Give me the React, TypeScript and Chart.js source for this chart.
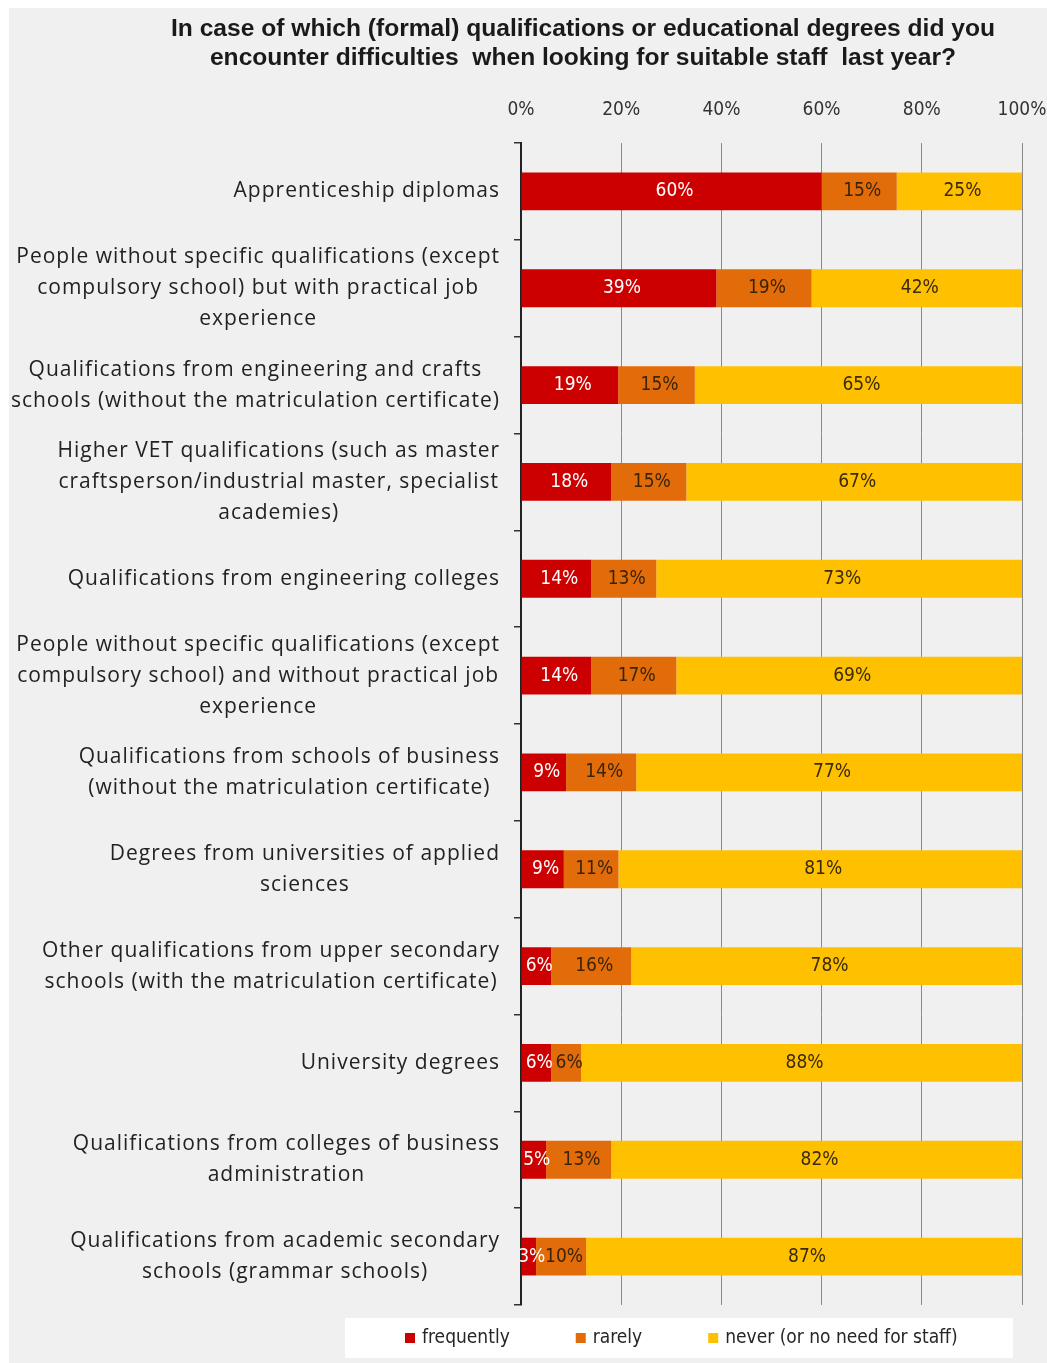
import React, { useEffect, useRef } from "react";
import { Chart, registerables } from "chart.js";

Chart.register(...registerables);

const titleLines: string[] = [
  "In case of which (formal) qualifications or educational degrees did you",
  "encounter difficulties  when looking for suitable staff  last year?",
];

const categories: string[][] = [
  ["Apprenticeship diplomas"],
  ["People without specific qualifications (except", "compulsory school) but with practical job", "experience"],
  ["Qualifications from engineering and crafts", "schools (without the matriculation certificate)"],
  ["Higher VET qualifications (such as master", "craftsperson/industrial master, specialist", "academies)"],
  ["Qualifications from engineering colleges"],
  ["People without specific qualifications (except", "compulsory school) and without practical job", "experience"],
  ["Qualifications from schools of business", "(without the matriculation certificate)"],
  ["Degrees from universities of applied", "sciences"],
  ["Other qualifications from upper secondary", "schools (with the matriculation certificate)"],
  ["University degrees"],
  ["Qualifications from colleges of business", "administration"],
  ["Qualifications from academic secondary", "schools (grammar schools)"],
];

const frequently: number[] = [60, 39, 19.4, 18, 14, 14, 9, 8.55, 6, 6, 5, 3];
const rarely: number[] = [15, 19, 15.3, 15, 13, 17, 14, 10.9, 16, 6, 13, 10];
const never: number[] = [25, 42, 65.3, 67, 73, 69, 77, 80.55, 78, 88, 82, 87];

const seriesNames: string[] = ["frequently", "rarely", "never (or no need for staff)"];
const seriesColors: string[] = ["#cc0000", "#e36c0a", "#ffc000"];
const labelColors: string[] = ["#ffffff", "#3a2408", "#3a2a08"];

const xTicks: number[] = [0, 20, 40, 60, 80, 100];

const NARROW = '"DejaVu Sans Condensed", "DejaVu Sans", sans-serif';
const CAT_FONT = '21px "Open Sans", sans-serif';
const TITLE_FONT = 'bold 24.6px "Liberation Sans", Arial, sans-serif';

const App: React.FC = () => {
  const ref = useRef<HTMLCanvasElement | null>(null);

  useEffect(() => {
    if (!ref.current) return;

    const backgroundPlugin = {
      id: "bgPlugin",
      beforeDraw(chart: any) {
        const { ctx, width, height } = chart;
        ctx.save();
        ctx.fillStyle = "#ffffff";
        ctx.fillRect(0, 0, width, height);
        ctx.fillStyle = "#f0f0f0";
        ctx.fillRect(9, 8, width - 9, height - 8);
        ctx.restore();
      },
    };

    const titlePlugin = {
      id: "titlePlugin",
      afterDraw(chart: any) {
        const ctx = chart.ctx;
        ctx.save();
        ctx.font = TITLE_FONT;
        ctx.fillStyle = "#1a1a1a";
        ctx.textAlign = "center";
        ctx.textBaseline = "middle";
        titleLines.forEach((t, i) => ctx.fillText(t, 583, 29 + i * 29));
        ctx.restore();
      },
    };

    const catLabelPlugin = {
      id: "catLabelPlugin",
      afterDraw(chart: any) {
        const ctx = chart.ctx;
        const yScale = chart.scales.y;
        const right = 500;
        const lh = 31;
        ctx.save();
        ctx.font = CAT_FONT;
        (ctx as any).letterSpacing = "1px";
        ctx.fillStyle = "#222222";
        ctx.textAlign = "center";
        ctx.textBaseline = "middle";
        categories.forEach((lines, i) => {
          const yc = yScale.getPixelForValue(i);
          const w = Math.max(...lines.map((l) => ctx.measureText(l).width));
          const cx = right - w / 2;
          lines.forEach((l, j) => {
            ctx.fillText(l, cx, yc + (j - (lines.length - 1) / 2) * lh);
          });
        });
        ctx.restore();
      },
    };

    const dataLabelPlugin = {
      id: "dataLabelPlugin",
      afterDatasetsDraw(chart: any) {
        const ctx = chart.ctx;
        ctx.save();
        ctx.font = "19px " + NARROW;
        ctx.textAlign = "center";
        ctx.textBaseline = "middle";
        chart.data.datasets.forEach((ds: any, di: number) => {
          const meta = chart.getDatasetMeta(di);
          ctx.fillStyle = labelColors[di];
          meta.data.forEach((el: any, i: number) => {
            const v = ds.data[i] as number;
            const cx = (el.x + el.base) / 2 + 3;
            ctx.fillText(Math.round(v) + "%", cx, el.y);
          });
        });
        ctx.restore();
      },
    };

    const legendPlugin = {
      id: "legendPlugin",
      afterDraw(chart: any) {
        const ctx = chart.ctx;
        ctx.save();
        ctx.fillStyle = "#ffffff";
        ctx.fillRect(345, 1318, 668, 40);
        ctx.font = "19px " + NARROW;
        ctx.textBaseline = "middle";
        ctx.textAlign = "left";
        let x = 405;
        const y = 1338;
        seriesNames.forEach((name, i) => {
          ctx.fillStyle = seriesColors[i];
          ctx.fillRect(x, y - 5, 10, 10);
          ctx.fillStyle = "#262626";
          ctx.fillText(name, x + 17, y);
          x += 17 + ctx.measureText(name).width + 66;
        });
        ctx.restore();
      },
    };

    const chart = new Chart(ref.current, {
      type: "bar",
      data: {
        labels: categories.map((c) => c.join(" ")),
        datasets: [
          { label: seriesNames[0], data: frequently, backgroundColor: seriesColors[0] },
          { label: seriesNames[1], data: rarely, backgroundColor: seriesColors[1] },
          { label: seriesNames[2], data: never, backgroundColor: seriesColors[2] },
        ],
      },
      options: {
        indexAxis: "y",
        responsive: false,
        animation: false,
        devicePixelRatio: 1,
        layout: { padding: { left: 0, top: 0, right: 25, bottom: 58 } },
        datasets: {
          bar: { barPercentage: 0.39, categoryPercentage: 1, borderWidth: 0 },
        },
        scales: {
          x: {
            stacked: true,
            position: "top",
            min: 0,
            max: 100,
            afterBuildTicks: (s: any) => {
              s.ticks = xTicks.map((v) => ({ value: v }));
            },
            ticks: {
              callback: (v: any) => v + "%",
              font: { family: NARROW, size: 19 },
              color: "#333333",
              padding: 22,
              maxRotation: 0,
            },
            grid: { color: "#8a8a8a", lineWidth: 1, drawTicks: false },
            border: { display: false },
            afterFit: (s: any) => {
              s.height = 143;
              s.paddingLeft = 0;
              s.paddingRight = 0;
            },
          },
          y: {
            stacked: true,
            ticks: { display: false },
            grid: {
              drawOnChartArea: false,
              drawTicks: true,
              tickLength: 7,
              color: "#333333",
              lineWidth: 1.5,
              offset: true,
            },
            border: { display: true, color: "#222222", width: 2 },
            afterFit: (s: any) => {
              s.width = 521;
              s.paddingTop = 0;
              s.paddingBottom = 0;
            },
          },
        },
        plugins: {
          legend: { display: false },
          tooltip: { enabled: false },
          title: { display: false },
        },
      } as any,
      plugins: [backgroundPlugin, titlePlugin, catLabelPlugin, dataLabelPlugin, legendPlugin],
    });

    return () => chart.destroy();
  }, []);

  return (
    <div style={{ position: "absolute", left: 0, top: 0, width: 1047, height: 1363 }}>
      <canvas ref={ref} width={1047} height={1363} style={{ display: "block" }} />
    </div>
  );
};

export default App;
